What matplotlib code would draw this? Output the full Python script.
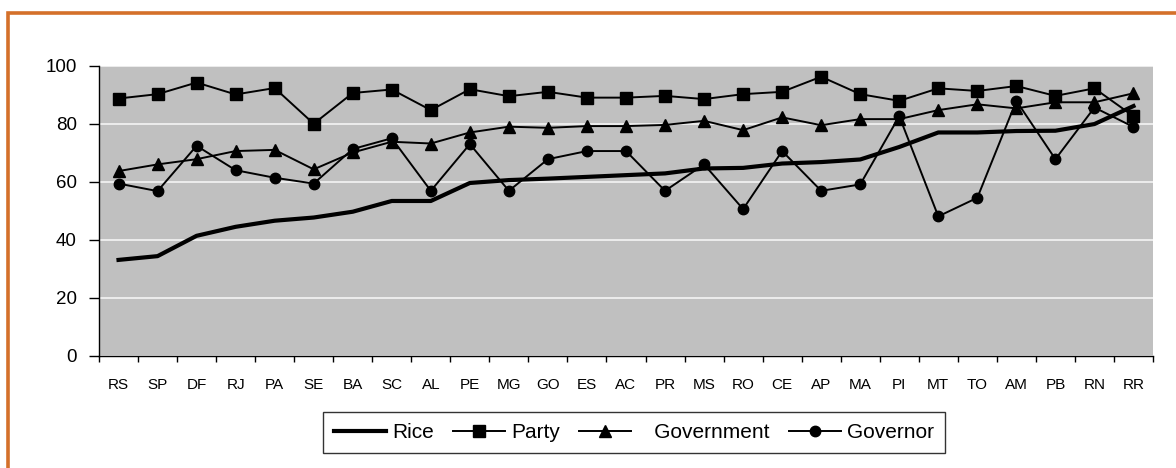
import matplotlib
matplotlib.use("Agg")
import matplotlib.pyplot as plt
from matplotlib.patches import Rectangle

states = ["RS", "SP", "DF", "RJ", "PA", "SE", "BA", "SC", "AL", "PE", "MG", "GO", "ES", "AC",
          "PR", "MS", "RO", "CE", "AP", "MA", "PI", "MT", "TO", "AM", "PB", "RN", "RR"]

rice = [33.1, 34.4, 41.4, 44.5, 46.6, 47.7, 49.7, 53.4, 53.4, 59.6, 60.6, 61.1, 61.7, 62.3,
        62.9, 64.6, 64.8, 66.3, 66.8, 67.7, 72.0, 77.0, 77.0, 77.5, 77.6, 79.9, 86.1]
party = [88.7, 90.2, 94.2, 90.1, 92.3, 80.0, 90.6, 91.8, 84.7, 91.9, 89.5, 91.0, 89.0, 89.0,
         89.6, 88.5, 90.2, 91.0, 96.2, 90.2, 87.9, 92.2, 91.3, 93.0, 89.6, 92.2, 82.6]
government = [63.7, 66.0, 67.8, 70.6, 71.0, 64.3, 70.1, 73.8, 73.2, 77.0, 79.0, 78.6, 79.2, 79.2,
              79.6, 81.0, 77.8, 82.2, 79.5, 81.6, 81.6, 84.7, 86.7, 85.3, 87.4, 87.4, 90.5]
governor = [59.4, 56.8, 72.4, 64.0, 61.4, 59.4, 71.3, 75.0, 56.9, 73.0, 56.9, 67.8, 70.6, 70.6,
            56.9, 66.0, 50.6, 70.6, 56.9, 59.1, 82.6, 48.1, 54.5, 87.9, 67.8, 85.6, 78.9]

plt.rcParams["font.family"] = ["Liberation Sans", "DejaVu Sans"]

fig = plt.figure(figsize=(11.76, 4.68), dpi=100)
fig.patch.set_facecolor("white")

# orange frame round the chart area, running off the right and bottom edges
W, H = 1176.0, 468.0
fig.patches.append(Rectangle((8 / W, -0.2), 1.3, 1.2 - 12.5 / H, transform=fig.transFigure,
                             fill=False, edgecolor="#D4702A", linewidth=2.6, zorder=0))

ax = fig.add_axes([99 / W, 1 - 356 / H, (1153 - 99) / W, (356 - 65.7) / H])
ax.set_facecolor("#C0C0C0")

x = list(range(len(states)))
ax.plot(x, rice, color="black", linewidth=3.0, label="Rice", zorder=3)
ax.plot(x, party, color="black", linewidth=1.4, marker="s", markersize=8, label="Party", zorder=4)
ax.plot(x, government, color="black", linewidth=1.4, marker="^", markersize=8.5,
        label="   Government", zorder=5)
ax.plot(x, governor, color="black", linewidth=1.4, marker="o", markersize=7.5,
        label="Governor", zorder=6)

ax.set_xlim(-0.5, len(states) - 0.5)
ax.set_ylim(0, 100)
ax.set_yticks([0, 20, 40, 60, 80, 100])
ax.yaxis.grid(True, color="#F4F4F4", linewidth=1.2)
ax.set_axisbelow(True)

ax.set_xticks(x)
ax.set_xticklabels(states, fontsize=11)
ax.set_xticks([i - 0.5 for i in range(len(states) + 1)], minor=True)
ax.tick_params(axis="x", which="major", length=0, pad=16)
ax.tick_params(axis="x", which="minor", length=4, width=1, direction="out")
ax.tick_params(axis="y", length=7, width=1, direction="out", labelsize=13.5, pad=9)

for side in ["top", "right"]:
    ax.spines[side].set_visible(False)
ax.spines["left"].set_linewidth(1)
ax.spines["bottom"].set_linewidth(1)

leg = fig.legend(loc="center", bbox_to_anchor=(634 / W, 1 - 432.5 / H), ncol=4, fontsize=15,
                 frameon=True, fancybox=False, edgecolor="black", handlelength=2.5,
                 handletextpad=0.3, columnspacing=0.9, borderpad=0.55, numpoints=1)
leg.get_frame().set_linewidth(1)

fig.savefig("out.png", dpi=100, facecolor="white")
